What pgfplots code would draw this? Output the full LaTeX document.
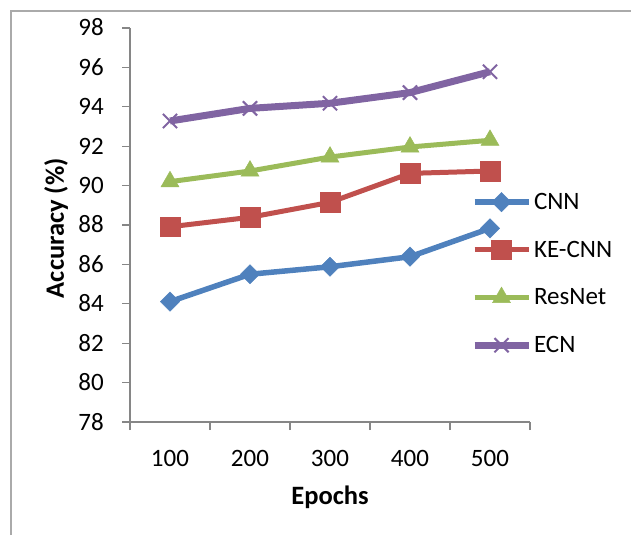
\documentclass[border=0pt]{standalone}
\usepackage{pgfplots}
\pgfplotsset{compat=1.18}
\usepackage{fontspec}
\setmainfont{Carlito}
\definecolor{cnn}{HTML}{4F81BD}
\definecolor{kecnn}{HTML}{C0504D}
\definecolor{resnet}{HTML}{9BBB59}
\definecolor{ecn}{HTML}{8064A2}
\definecolor{axgray}{HTML}{868686}
\newcommand{\tickfont}{\fontsize{25}{29}\selectfont}
\newcommand{\labfont}{\fontsize{26.5}{30}\selectfont\bfseries}
\begin{document}
\begin{tikzpicture}[x=1pt,y=1pt]
\useasboundingbox (0,0) rectangle (631,535);
\draw[color=axgray!70, line width=2pt] (11,0) -- (11,524) -- (631,524);
\begin{axis}[
  at={(130pt,113pt)}, anchor=south west,
  scale only axis, width=400pt, height=394pt,
  xmin=0.5, xmax=5.5, ymin=78, ymax=98,
  ytick={78,80,...,98},
  xtick={1,2,3,4,5}, xticklabels={100,200,300,400,500},
  minor xtick={0.5,1.5,2.5,3.5,4.5,5.5},
  axis x line*=bottom, axis y line*=left,
  axis line style={axgray, line width=1.5pt},
  tick align=outside,
  major tick length=8pt, minor tick length=8pt,
  tick style={axgray, line width=1.3pt},
  major x tick style={draw=none},
  /pgf/number format/assume math mode=true,
  ticklabel style={font=\tickfont, text=black},
  yticklabel style={anchor=base east, inner sep=0pt, xshift=-18pt, yshift=-8pt},
  xticklabel style={anchor=base, inner sep=0pt, yshift=-36pt},
  xlabel={Epochs}, ylabel={Accuracy (\%)},
  xlabel style={font=\labfont, at={(axis description cs:0.5,-0.19)}, anchor=center},
  ylabel style={font=\labfont, at={(axis description cs:-0.185,0.492)}, anchor=center, rotate=0},
  clip=false,
  legend style={at={(axis description cs:0.852,0.586)}, anchor=north west, draw=none, fill=none,
    font=\tickfont, row sep=26pt, inner sep=0pt},
  legend cell align=left,
  legend image code/.code={\draw[mark repeat=2,mark phase=2] plot coordinates {(0pt,0pt)(27pt,0pt)(54pt,0pt)};},
]
\addplot[color=cnn, line width=5.5pt, mark=square*, mark size=6.8pt, mark options={rotate=45, line width=0.5pt, fill=cnn}]
  coordinates {(1,84.11)(2,85.50)(3,85.88)(4,86.39)(5,87.83)};
\addlegendentry{CNN}
\addplot[color=kecnn, line width=5pt, mark=square*, mark size=9.8pt, mark options={line width=0.5pt, fill=kecnn}]
  coordinates {(1,87.91)(2,88.39)(3,89.15)(4,90.62)(5,90.74)};
\addlegendentry{KE-CNN}
\addplot[color=resnet, line width=5pt, mark=triangle*, mark size=10.4pt, mark options={line width=0.5pt, fill=resnet}]
  coordinates {(1,90.20)(2,90.74)(3,91.45)(4,91.96)(5,92.30)};
\addlegendentry{ResNet}
\addplot[color=ecn, line width=7pt, mark=x, mark size=10pt, mark options={line width=2pt}]
  coordinates {(1,93.28)(2,93.92)(3,94.18)(4,94.72)(5,95.78)};
\addlegendentry{ECN}
\end{axis}
\end{tikzpicture}
\end{document}
